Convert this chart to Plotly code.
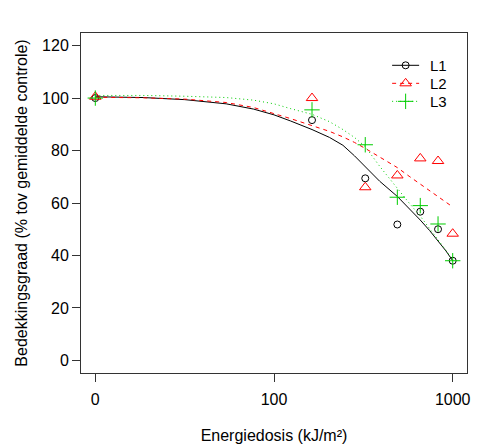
import math
import plotly.graph_objects as go

# ---- data ----
doses = [0, 167, 333, 500, 667, 833, 1000]
L1 = [100.0, 91.6, 69.4, 51.8, 56.7, 50.0, 38.0]
L2 = [100.5, 100.0, 66.0, 70.5, 77.0, 76.0, 48.3]
L3 = [100.0, 95.5, 82.2, 62.2, 59.0, 52.0, 38.0]

fit_doses = [0, 10, 25, 50, 75, 100, 125, 167, 210, 250, 290, 333, 400, 500, 580, 667, 750, 833, 920, 1000]
fit_L1 = [100.5, 100.2, 99.4, 97.8, 95.8, 93.6, 91.3, 88.0, 85.0, 82.0, 78.0, 73.8, 68.3, 62.5, 58.0, 53.5, 49.5, 45.5, 41.7, 38.0]
fit_L2 = [100.3, 100.1, 99.6, 98.3, 96.4, 94.2, 92.2, 89.5, 87.3, 85.2, 83.1, 80.8, 77.5, 73.5, 70.2, 67.2, 64.8, 62.5, 60.4, 58.5]
fit_L3 = [101.0, 101.0, 100.7, 100.2, 99.2, 97.8, 96.0, 93.8, 91.0, 88.0, 85.0, 81.5, 74.0, 65.5, 60.0, 55.0, 50.3, 46.0, 41.9, 38.0]

xtick_vals = [0, 100, 1000]
ytick_vals = [0, 20, 40, 60, 80, 100, 120]
names = ["L1", "L2", "L3"]

OFFSET = 12.5  # axis transform: log10(dose + OFFSET)


def tx(v):
    return [d + OFFSET for d in v]


FONT = "Liberation Sans, Arial, sans-serif"

styles = [
    ("black", "solid", "circle-open", 7),
    ("#FF0000", "4px,4px", "triangle-up-open", 10),
    ("#00CD00", "1px,3px", "cross-thin-open", 11),
]
point_sets = [L1, L2, L3]
fit_sets = [fit_L1, fit_L2, fit_L3]

fig = go.Figure()
for name, pts, fit, (col, dash, sym, size) in zip(names, point_sets, fit_sets, styles):
    fig.add_trace(go.Scatter(
        x=tx(fit_doses), y=fit, mode="lines",
        line=dict(color=col, width=1, dash=dash),
        showlegend=False, hoverinfo="skip",
    ))
    fig.add_trace(go.Scatter(
        x=tx(doses), y=pts, mode="markers", name=name,
        marker=dict(symbol=sym, size=size, color=col, line=dict(color=col, width=1)),
        showlegend=False,
    ))

# ---- manual legend on an overlay axis (0..1 of the plot area) ----
leg_x0, leg_x1, leg_xm, leg_xt = 0.806, 0.876, 0.841, 0.898
leg_ys = [0.905, 0.852, 0.799]
for name, ly, (col, dash, sym, size) in zip(names, leg_ys, styles):
    fig.add_trace(go.Scatter(
        x=[leg_x0, leg_x1], y=[ly, ly], mode="lines",
        line=dict(color=col, width=1, dash=dash),
        xaxis="x2", yaxis="y2", showlegend=False, hoverinfo="skip",
    ))
    fig.add_trace(go.Scatter(
        x=[leg_xm], y=[ly], mode="markers",
        marker=dict(symbol=sym, size=size, color=col, line=dict(color=col, width=1)),
        xaxis="x2", yaxis="y2", showlegend=False, hoverinfo="skip",
    ))
    fig.add_annotation(
        x=leg_xt, y=ly, xref="x2", yref="y2", text=name, showarrow=False,
        xanchor="left", yanchor="middle", font=dict(size=15, family=FONT, color="black"),
    )

lo = math.log10(OFFSET)
hi = math.log10(1000 + OFFSET)
pad = (hi - lo) * 0.04

fig.update_layout(
    width=479, height=448,
    margin=dict(l=81, r=12, t=33, b=75, autoexpand=False),
    paper_bgcolor="white", plot_bgcolor="white",
    font=dict(family=FONT, size=16, color="black"),
    showlegend=False,
    xaxis=dict(
        type="log", range=[lo - pad, hi + pad],
        tickvals=tx(xtick_vals), ticktext=[str(v) for v in xtick_vals],
        showgrid=False, zeroline=False,
        showline=True, mirror=True, linecolor="#333", linewidth=1,
        ticks="outside", ticklen=8, tickcolor="#333",
        tickfont=dict(size=16), ticklabelstandoff=4, automargin=False,
        title=dict(text="Energiedosis (kJ/m²)", font=dict(size=16), standoff=22),
    ),
    yaxis=dict(
        range=[-4.8, 124.8], tickvals=ytick_vals,
        showgrid=False, zeroline=False,
        showline=True, mirror=True, linecolor="#333", linewidth=1,
        ticks="outside", ticklen=8, tickcolor="#333",
        tickfont=dict(size=16), automargin=False,
        title=dict(text="Bedekkingsgraad (% tov gemiddelde controle)", font=dict(size=16), standoff=10),
    ),
    xaxis2=dict(overlaying="x", range=[0, 1], visible=False, fixedrange=True),
    yaxis2=dict(overlaying="y", range=[0, 1], visible=False, fixedrange=True),
)

fig.write_html("out.html")
